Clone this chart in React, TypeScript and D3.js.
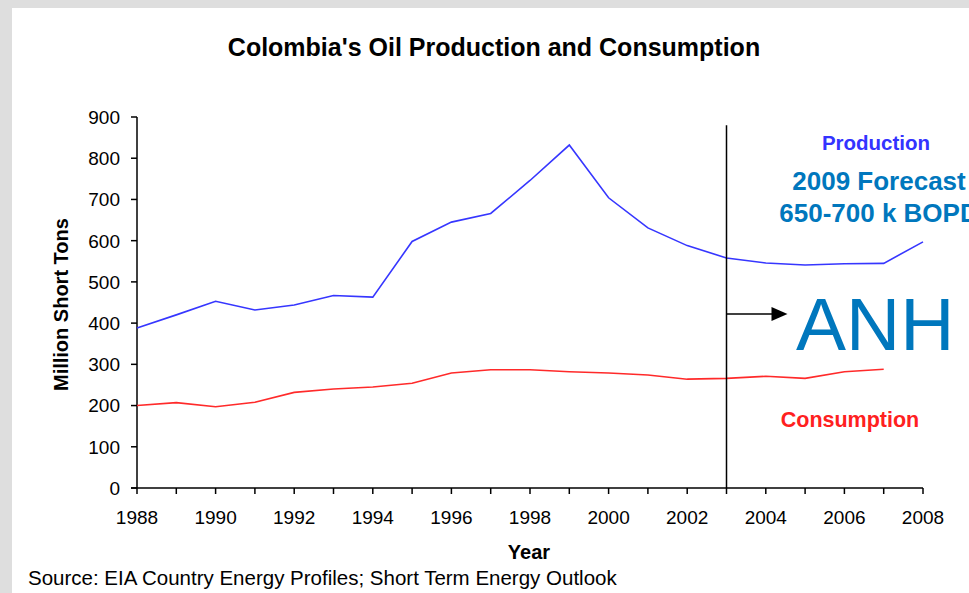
import React from "react";
import * as d3 from "d3";

const productionYears = [1988, 1989, 1990, 1991, 1992, 1993, 1994, 1995, 1996, 1997, 1998, 1999, 2000, 2001, 2002, 2003, 2004, 2005, 2006, 2007, 2008];
const production = [388, 420, 453, 432, 444, 467, 463, 598, 645, 666, 746, 832, 704, 631, 588, 558, 546, 541, 544, 545, 597];
const consumptionYears = [1988, 1989, 1990, 1991, 1992, 1993, 1994, 1995, 1996, 1997, 1998, 1999, 2000, 2001, 2002, 2003, 2004, 2005, 2006, 2007];
const consumption = [200, 207, 197, 208, 232, 240, 245, 254, 279, 287, 287, 282, 279, 274, 264, 266, 271, 266, 282, 288];
const yTicks = [0, 100, 200, 300, 400, 500, 600, 700, 800, 900];
const xTickLabels = [1988, 1990, 1992, 1994, 1996, 1998, 2000, 2002, 2004, 2006, 2008];
const xTickYears = d3.range(1988, 2009);
const markerYear = 2003;
const markerTop = 880;
const arrowValue = 422;

const W = 969;
const H = 593;

export default function App() {
  const x = d3.scaleLinear().domain([1988, 2008]).range([137, 923]);
  const y = d3.scaleLinear().domain([0, 900]).range([488, 117]);
  const line = d3
    .line<[number, number]>()
    .x((d) => x(d[0]))
    .y((d) => y(d[1]));
  const prodPts: [number, number][] = productionYears.map((yr, i) => [yr, production[i]]);
  const consPts: [number, number][] = consumptionYears.map((yr, i) => [yr, consumption[i]]);
  const font = "'Liberation Sans', Arial, Helvetica, sans-serif";
  const mx = x(markerYear);
  const ay = y(arrowValue);
  const blue = "#0077bd";

  return (
    <svg
      width={W}
      height={H}
      style={{ position: "absolute", left: 0, top: 0, display: "block" }}
      fontFamily={font}
    >
      <rect x={0} y={0} width={W} height={H} fill="#dedede" />
      <rect x={12} y={8} width={W} height={H} fill="#ffffff" />

      <text x={494} y={56} textAnchor="middle" fontSize={25} fontWeight="bold" fill="#000">
        Colombia's Oil Production and Consumption
      </text>

      {/* y axis */}
      <line x1={x(1988)} x2={x(1988)} y1={y(900)} y2={y(0)} stroke="#000" strokeWidth={1.5} />
      {yTicks.map((t) => (
        <g key={t}>
          <line x1={x(1988) - 6} x2={x(1988)} y1={y(t)} y2={y(t)} stroke="#000" strokeWidth={1.5} />
          <text x={120} y={y(t)} dy="0.36em" textAnchor="end" fontSize={19} fill="#000">
            {t}
          </text>
        </g>
      ))}
      <text
        transform={`translate(68, ${y(445)}) rotate(-90)`}
        textAnchor="middle"
        fontSize={20}
        fontWeight="bold"
        fill="#000"
      >
        Million Short Tons
      </text>

      {/* x axis */}
      <line x1={x(1988) - 6} x2={x(2008)} y1={y(0)} y2={y(0)} stroke="#000" strokeWidth={1.5} />
      {xTickYears.map((t) => (
        <line key={t} x1={x(t)} x2={x(t)} y1={y(0)} y2={y(0) + 6} stroke="#000" strokeWidth={1.5} />
      ))}
      {xTickLabels.map((t) => (
        <text key={t} x={x(t)} y={524} textAnchor="middle" fontSize={19} fill="#000">
          {t}
        </text>
      ))}
      <text x={529} y={559} textAnchor="middle" fontSize={20} fontWeight="bold" fill="#000">
        Year
      </text>
      <text x={28} y={585} fontSize={20.5} fill="#000">
        Source: EIA Country Energy Profiles; Short Term Energy Outlook
      </text>

      {/* series */}
      <path d={line(prodPts) || ""} fill="none" stroke="#3636ff" strokeWidth={1.6} />
      <path d={line(consPts) || ""} fill="none" stroke="#ff2a2a" strokeWidth={1.6} />

      {/* 2003 marker and arrow */}
      <line x1={mx} x2={mx} y1={y(markerTop)} y2={y(0)} stroke="#000" strokeWidth={1.5} />
      <line x1={mx} x2={mx + 48} y1={ay} y2={ay} stroke="#000" strokeWidth={1.5} />
      <path d={`M${mx + 61},${ay} L${mx + 45},${ay - 7} L${mx + 45},${ay + 7} Z`} fill="#000" />

      <text x={876} y={150} textAnchor="middle" fontSize={20.5} fontWeight="bold" fill="#3333ff">
        Production
      </text>
      <text x={879} y={190} textAnchor="middle" fontSize={26} fontWeight="bold" fill={blue}>
        2009 Forecast
      </text>
      <text x={879} y={222} textAnchor="middle" fontSize={26} fontWeight="bold" fill={blue}>
        650-700 k BOPD
      </text>
      <text x={796} y={350} fontSize={75} fill={blue}>
        ANH
      </text>
      <text x={850} y={427} textAnchor="middle" fontSize={21.5} fontWeight="bold" fill="#ff2020">
        Consumption
      </text>
    </svg>
  );
}
